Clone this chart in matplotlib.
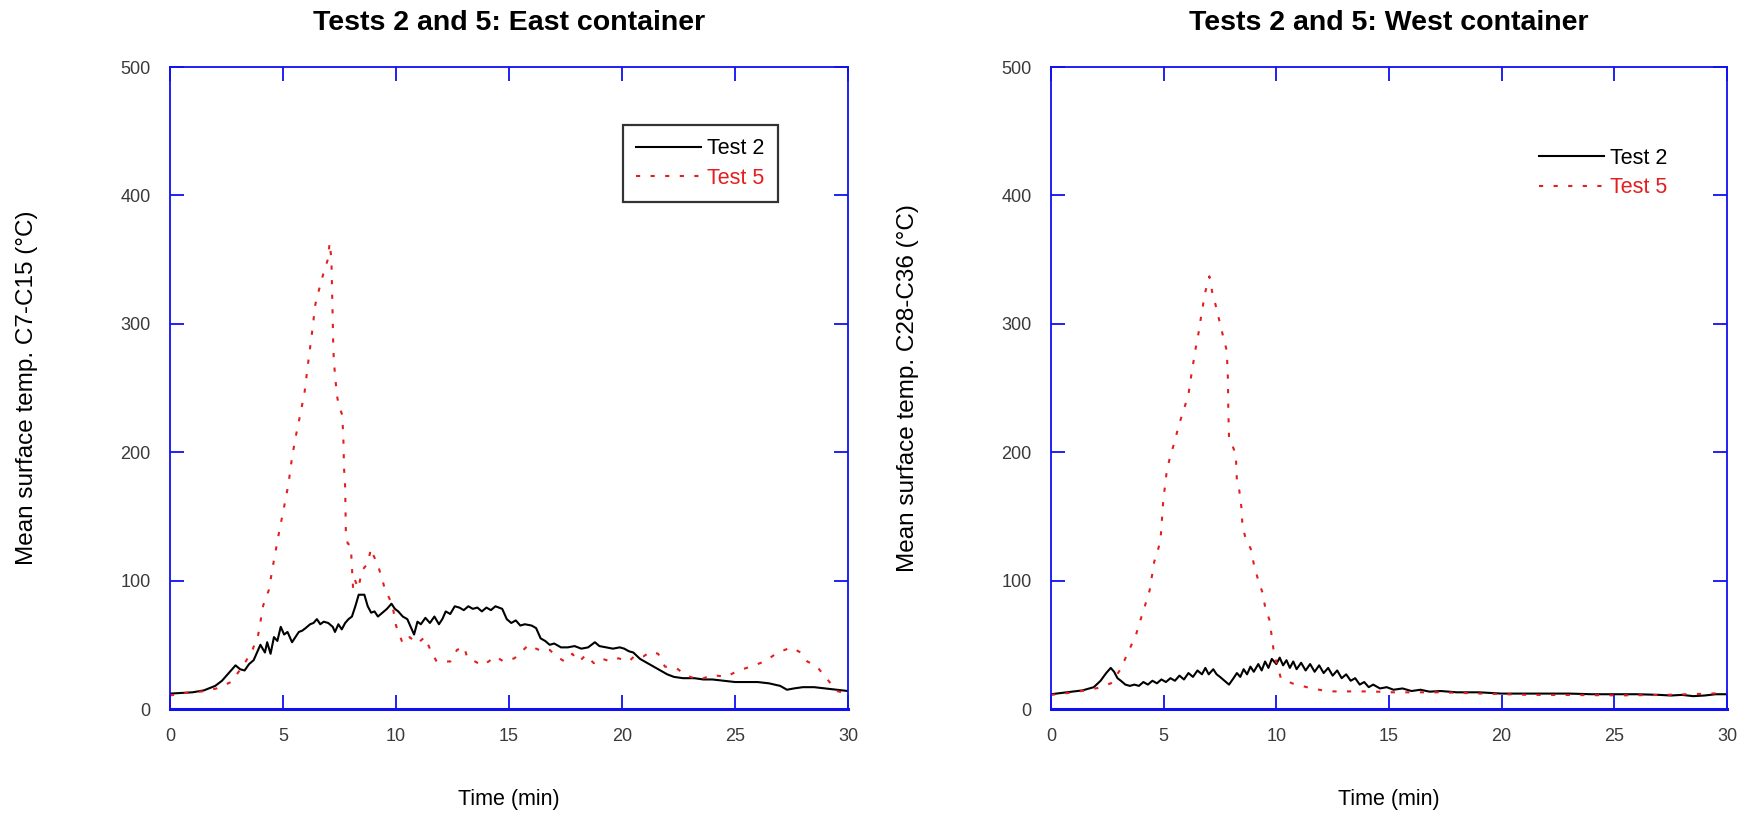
import matplotlib
matplotlib.use("Agg")
import matplotlib.pyplot as plt

plt.rcParams['font.family'] = ['Liberation Sans', 'DejaVu Sans']

# ---------------- data ----------------
east_t2_time = [0.0, 0.5, 1.0, 1.5, 2.0, 2.3, 2.6, 2.9, 3.1, 3.3, 3.5, 3.7, 3.9, 4.0, 4.2, 4.3, 4.45,
                4.6, 4.75, 4.9, 5.05, 5.2, 5.4, 5.55, 5.7, 5.85, 6.0, 6.2, 6.35, 6.5, 6.65, 6.8, 7.0,
                7.2, 7.3, 7.45, 7.6, 7.75, 7.9, 8.05, 8.2, 8.35, 8.6, 8.75, 8.9, 9.05, 9.2, 9.4, 9.6,
                9.8, 9.95, 10.1, 10.3, 10.5, 10.65, 10.8, 10.95, 11.1, 11.3, 11.5, 11.7, 11.9, 12.05,
                12.2, 12.4, 12.6, 12.8, 13.0, 13.2, 13.4, 13.6, 13.8, 14.0, 14.2, 14.4, 14.7, 14.9,
                15.1, 15.3, 15.5, 15.7, 16.0, 16.2, 16.4, 16.6, 16.8, 17.0, 17.3, 17.6, 17.9, 18.2,
                18.5, 18.8, 19.0, 19.3, 19.6, 19.9, 20.1, 20.3, 20.5, 20.8, 21.1, 21.4, 21.7, 22.0,
                22.3, 22.7, 23.2, 23.6, 24.0, 24.5, 25.0, 25.5, 26.0, 26.5, 27.0, 27.3, 27.6, 28.0,
                28.5, 29.0, 29.5, 30.0]
east_t2_temp = [12, 12.5, 13, 14.5, 18, 22, 28, 34, 31, 30, 35, 38, 46, 50, 44, 52, 43,
                56, 53, 64, 58, 60, 52, 56, 60, 61, 63, 66, 67, 70, 66, 68, 67,
                64, 60, 66, 62, 67, 70, 72, 80, 89, 89, 80, 75, 76, 72, 75, 78,
                82, 78, 76, 72, 70, 64, 58, 68, 66, 71, 67, 72, 66, 70,
                76, 74, 80, 79, 77, 80, 78, 79, 76, 79, 77, 80, 78, 70,
                67, 69, 65, 66, 65, 63, 55, 53, 50, 51, 48, 48, 49, 47,
                48, 52, 49, 48, 47, 48, 47, 45, 44, 39, 36, 33, 30, 27,
                25, 24, 24, 23, 23, 22, 21, 21, 21, 20, 18, 15, 16, 17,
                17, 16, 15, 14]

east_t5_time = [0.0, 0.63, 1.43, 2.06, 2.7, 3.25, 3.65, 3.9, 4.13, 4.37, 4.6, 4.84, 5.0, 5.24, 5.4,
                5.55, 5.7, 5.95, 6.1, 6.27, 6.43, 6.6, 6.8, 7.0, 7.06, 7.14, 7.17, 7.2, 7.22, 7.25,
                7.38, 7.46, 7.62, 7.67, 7.7, 7.75, 7.78, 7.86, 8.0, 8.1, 8.17, 8.33, 8.5, 8.73, 8.9,
                8.97, 9.2, 9.37, 9.5, 9.84, 10.0, 10.3, 10.6, 10.95, 11.27, 11.6, 11.8, 12.4, 12.7,
                13.0, 13.17, 13.5, 13.8, 14.1, 14.4, 14.76, 15.24, 15.56, 15.87, 16.2, 16.5, 16.8,
                17.1, 17.46, 17.8, 18.1, 18.4, 18.75, 19.05, 19.5, 19.84, 20.3, 20.6, 20.95, 21.27,
                21.6, 21.9, 22.4, 22.8, 23.4, 24.0, 24.6, 25.15, 25.7, 26.3, 26.9, 27.5, 27.9, 28.2,
                28.6, 29.0, 29.5, 30.0]
east_t5_temp = [10.5, 12.4, 13.7, 16, 21, 34, 46, 57.6, 81, 92.5, 116, 139, 153, 175, 196,
                211, 224, 246, 268, 291, 315, 327, 340, 351, 363, 351, 327, 304, 286, 271,
                245, 237, 229, 211, 188, 173, 139, 129, 127, 94, 101, 94, 108, 113, 125,
                121, 112, 102, 94, 81, 65, 51, 56, 51, 56, 43, 37, 37, 46,
                48.6, 39.5, 37, 34, 37, 41, 37, 39.5, 44.7, 50, 47, 44.7, 46,
                41, 37, 43, 37, 42, 35.7, 39.5, 37, 39.5, 37, 42, 41, 44.7,
                43, 33, 32, 26.5, 22.6, 26.5, 25, 30, 33, 37, 44, 48, 44, 37,
                33.5, 25, 14, 12]

west_t2_time = [0.0, 0.7, 1.4, 1.9, 2.2, 2.45, 2.65, 2.8, 2.95, 3.1, 3.3, 3.5, 3.7, 3.9, 4.1, 4.3,
                4.5, 4.7, 4.9, 5.1, 5.3, 5.5, 5.7, 5.9, 6.1, 6.3, 6.5, 6.7, 6.85, 7.0, 7.2, 7.35,
                7.5, 7.7, 7.9, 8.1, 8.25, 8.4, 8.55, 8.7, 8.85, 9.0, 9.2, 9.35, 9.5, 9.65, 9.8,
                10.0, 10.15, 10.3, 10.45, 10.6, 10.75, 10.9, 11.1, 11.3, 11.5, 11.7, 11.9, 12.1,
                12.3, 12.5, 12.7, 12.9, 13.1, 13.3, 13.5, 13.7, 13.9, 14.1, 14.3, 14.6, 14.9,
                15.2, 15.6, 16.0, 16.4, 16.8, 17.3, 18.0, 19.0, 20.0, 21.0, 22.0, 23.0, 24.0,
                25.0, 26.0, 27.0, 27.5, 28.0, 28.5, 29.0, 29.5, 30.0]
west_t2_temp = [11.5, 13, 14.5, 17, 22, 28, 32, 29, 24, 22, 19, 18, 19, 18, 21, 19,
                22, 20, 23, 21, 24, 22, 26, 23, 28, 25, 30, 27, 32, 27, 31, 27,
                25, 22, 19, 24, 28, 25, 31, 27, 33, 29, 35, 30, 37, 32, 39,
                35, 40, 34, 38, 32, 37, 31, 36, 30, 35, 29, 34, 28,
                32, 26, 30, 24, 27, 22, 24, 19, 21, 17, 19, 16, 17,
                15, 16, 14, 15, 13.5, 14, 13, 13, 12, 12, 12, 12, 11.5,
                11.5, 11.5, 11, 10.5, 11, 10, 10.5, 11.5, 11.5]

west_t5_time = [0.0, 1.05, 2.06, 2.66, 3.07, 3.47, 3.77, 3.97, 4.18, 4.38, 4.58, 4.78, 4.88, 4.98,
                5.14, 5.28, 5.45, 5.69, 5.9, 6.1, 6.2, 6.4, 6.54, 6.7, 6.85, 7.03, 7.15, 7.3, 7.6,
                7.8, 7.85, 7.87, 7.9, 8.2, 8.25, 8.35, 8.45, 8.5, 8.67, 8.86, 9.0, 9.2, 9.4, 9.5,
                9.7, 9.8, 9.9, 10.2, 10.7, 11.5, 12.3, 13.15, 14.2, 15.2, 17.2, 19.2, 21.2, 23.2,
                25.3, 27.3, 30.0]
west_t5_temp = [11, 13, 16.3, 20, 30.5, 46, 57.7, 69.3, 81, 92.6, 114.6, 126, 136.5, 162,
                185.7, 196, 206, 222, 233.5, 245, 257, 279, 292, 310, 325, 337, 325, 315, 293,
                279, 258, 232, 211.5, 198.6, 178, 171, 157, 141.7, 131, 125, 113, 100, 90, 79.6,
                69, 56, 43, 24, 20, 16.3, 13.7, 13.7, 13.7, 13, 13, 12, 11, 10.9,
                10.6, 11, 12.4]

titles = ["Tests 2 and 5: East container", "Tests 2 and 5: West container"]
ylabels = ["Mean surface temp. C7-C15 (\u00b0C)", "Mean surface temp. C28-C36 (\u00b0C)"]
xlabel = "Time (min)"
series_labels = ["Test 2", "Test 5"]
x_ticks = [0, 5, 10, 15, 20, 25, 30]
y_ticks = [0, 100, 200, 300, 400, 500]

# ---------------- figure ----------------
W, H = 1744, 817
fig = plt.figure(figsize=(W / 100, H / 100), dpi=100)

def frac_axes(x0, y0, x1, y1):
    return fig.add_axes([x0 / W, 1 - y1 / H, (x1 - x0) / W, (y1 - y0) / H])

ax_l = frac_axes(170, 67, 848, 709)
ax_r = frac_axes(1051, 67, 1727, 709)

blue = '#1010f5'
red = '#e41e1e'
red_ls = (0, (2.0, 5.0))

data = [(east_t2_time, east_t2_temp, east_t5_time, east_t5_temp),
        (west_t2_time, west_t2_temp, west_t5_time, west_t5_temp)]

for i, ax in enumerate([ax_l, ax_r]):
    t2x, t2y, t5x, t5y = data[i]
    ax.plot(t2x, t2y, color='black', lw=1.5, label=series_labels[0])
    ax.plot(t5x, t5y, color=red, lw=1.5, linestyle=red_ls, label=series_labels[1])
    ax.set_xlim(0, 30)
    ax.set_ylim(0, 500)
    ax.set_xticks(x_ticks)
    ax.set_yticks(y_ticks)
    ax.tick_params(direction='in', length=10, width=1.3, color=blue,
                   top=True, right=True, labelsize=13, labelcolor='#3a3a3a')
    ax.tick_params(axis='x', pad=14)
    ax.tick_params(axis='y', pad=14)
    for name, sp in ax.spines.items():
        sp.set_color(blue)
        sp.set_linewidth(2.2 if name == 'bottom' else 1.3)
    ax.set_title(titles[i], fontsize=20.5, fontweight='bold', pad=27)
    ax.set_xlabel(xlabel, fontsize=15.5)
    ax.xaxis.set_label_coords(0.5, -0.125)
    ax.set_ylabel(ylabels[i], fontsize=17.5)
    ax.yaxis.set_label_coords(-0.195, 0.5)

leg1 = ax_l.legend(loc='upper left', bbox_to_anchor=(0.668, 0.91), borderaxespad=0,
                   fontsize=15.5, handlelength=3.0, handletextpad=0.3, labelspacing=0.39,
                   frameon=True, fancybox=False, labelcolor='linecolor', borderpad=0.62)
leg1.get_frame().set_edgecolor('black')
leg1.get_frame().set_linewidth(1.6)

leg2 = ax_r.legend(loc='upper left', bbox_to_anchor=(0.722, 0.874), borderaxespad=0,
                   fontsize=15.5, handlelength=3.0, handletextpad=0.3, labelspacing=0.39,
                   frameon=False, labelcolor='linecolor', borderpad=0)

fig.savefig('out.png', dpi=100)
